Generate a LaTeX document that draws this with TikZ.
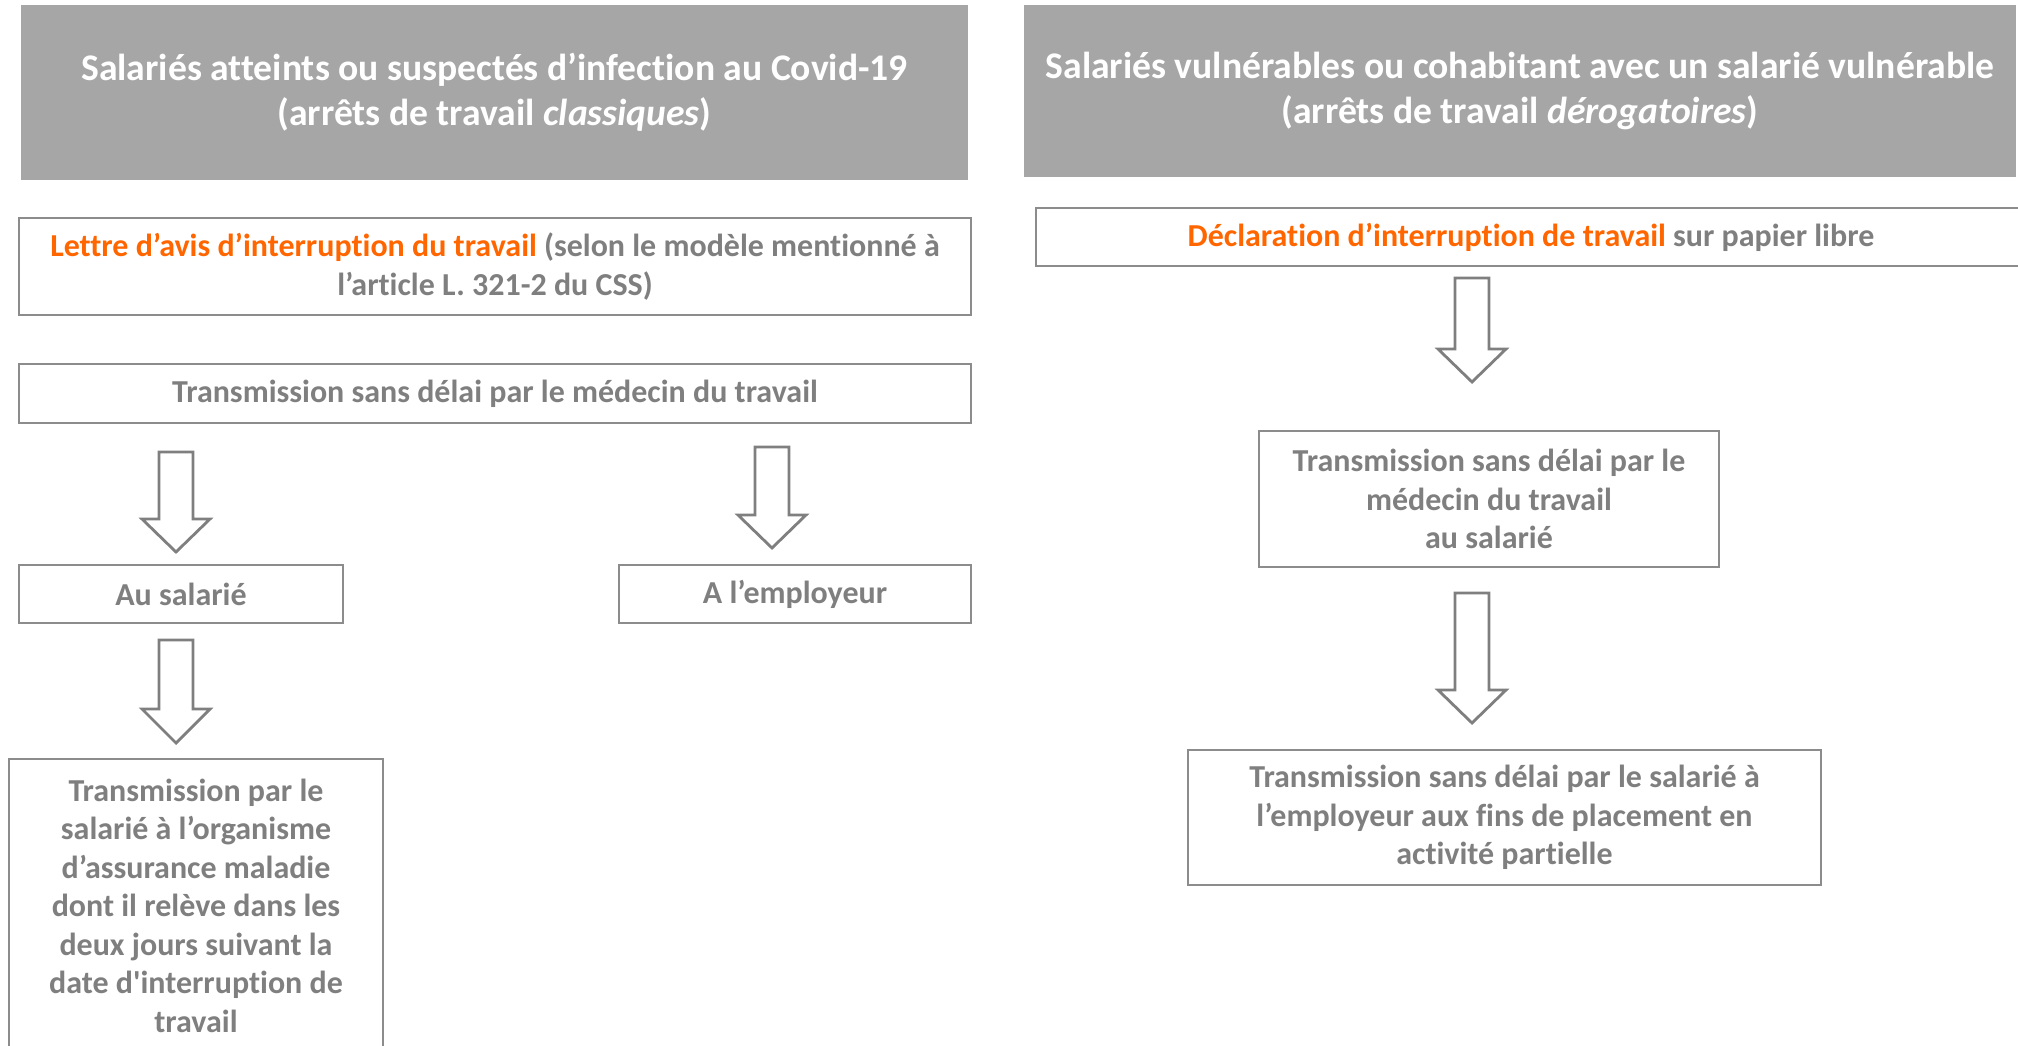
\documentclass[tikz,border=0pt]{standalone}
\usepackage{fontspec}
\setmainfont{Carlito}[Ligatures=NoCommon]
\usepackage{tikz}
\definecolor{hdrgray}{HTML}{A6A6A6}
\definecolor{txtgray}{HTML}{7F7F7F}
\definecolor{linegray}{HTML}{8C8C8C}
\definecolor{avisorange}{HTML}{FF6600}
\tikzset{
  hdr/.style={fill=hdrgray,text=white,align=center,inner sep=0pt,
    font={\fontsize{10.7}{12.8}\selectfont\bfseries}},
  box/.style={draw=linegray,line width=0.5pt,fill=white,text=txtgray,align=center,inner sep=0pt,
    font={\fontsize{9.1}{10.95}\selectfont\bfseries}},
  hollow/.style={draw=txtgray,line width=0.8pt,fill=white,line join=miter}
}
\newcommand{\hl}[1]{\textcolor{avisorange}{#1}}

\begin{document}
\begin{tikzpicture}
            \useasboundingbox (0,0) rectangle (20.18,-10.45);
            \clip (0,0) rectangle (20.18,-10.45);

            \node[hdr,minimum width=9.47cm,minimum height=1.75cm] (hdrL) at (4.945,-0.925) {Salariés atteints ou suspectés d’infection au Covid-19\\(arrêts de travail \textit{classiques})};
            \node[hdr,minimum width=9.92cm,minimum height=1.72cm] (hdrR) at (15.20,-0.91) {Salariés vulnérables ou cohabitant avec un salarié vulnérable\\(arrêts de travail \textit{dérogatoires})};

            \node[box,minimum width=9.52cm,minimum height=0.97cm] (avis) at (4.95,-2.665) {\hl{Lettre d’avis d’interruption du travail} (selon le modèle mentionné à\\l’article L. 321-2 du CSS)};
            \node[box,minimum width=9.52cm,minimum height=0.59cm] (transL) at (4.95,-3.935) {Transmission sans délai par le médecin du travail};
            \node[box,minimum width=3.24cm,minimum height=0.58cm] (ausal) at (1.81,-5.94) {Au salarié};
            \node[box,minimum width=3.52cm,minimum height=0.58cm] (employ) at (7.95,-5.94) {A l’employeur};
            \node[box,minimum width=3.74cm,minimum height=2.93cm] (organ) at (1.96,-9.055) {Transmission par le\\salarié à l’organisme\\d’assurance maladie\\dont il relève dans les\\deux jours suivant la\\date d\textquotesingle interruption de\\travail};

            \node[box,minimum width=9.90cm,minimum height=0.58cm] (decl) at (15.31,-2.37) {\hl{Déclaration d’interruption de travail} sur papier libre};
            \node[box,minimum width=4.60cm,minimum height=1.36cm] (transR) at (14.89,-4.99) {Transmission sans délai par le\\médecin du travail\\au salarié};
            \node[box,minimum width=6.33cm,minimum height=1.35cm] (partiel) at (15.045,-8.175) {Transmission sans délai par le salarié à\\l’employeur aux fins de placement en\\activité partielle};

            \draw[hollow] (1.59,-4.52) -- (1.93,-4.52) -- (1.93,-5.19) -- (2.10,-5.19) -- (1.76,-5.52) -- (1.42,-5.19) -- (1.59,-5.19) -- cycle;
            \draw[hollow] (7.55,-4.47) -- (7.89,-4.47) -- (7.89,-5.15) -- (8.06,-5.15) -- (7.72,-5.48) -- (7.38,-5.15) -- (7.55,-5.15) -- cycle;
            \draw[hollow] (1.59,-6.40) -- (1.93,-6.40) -- (1.93,-7.09) -- (2.10,-7.09) -- (1.76,-7.43) -- (1.42,-7.09) -- (1.59,-7.09) -- cycle;

            \draw[hollow] (14.55,-2.78) -- (14.89,-2.78) -- (14.89,-3.49) -- (15.06,-3.49) -- (14.72,-3.82) -- (14.38,-3.49) -- (14.55,-3.49) -- cycle;
            \draw[hollow] (14.55,-5.93) -- (14.89,-5.93) -- (14.89,-6.90) -- (15.06,-6.90) -- (14.72,-7.23) -- (14.38,-6.90) -- (14.55,-6.90) -- cycle;
        \end{tikzpicture}
\end{document}
